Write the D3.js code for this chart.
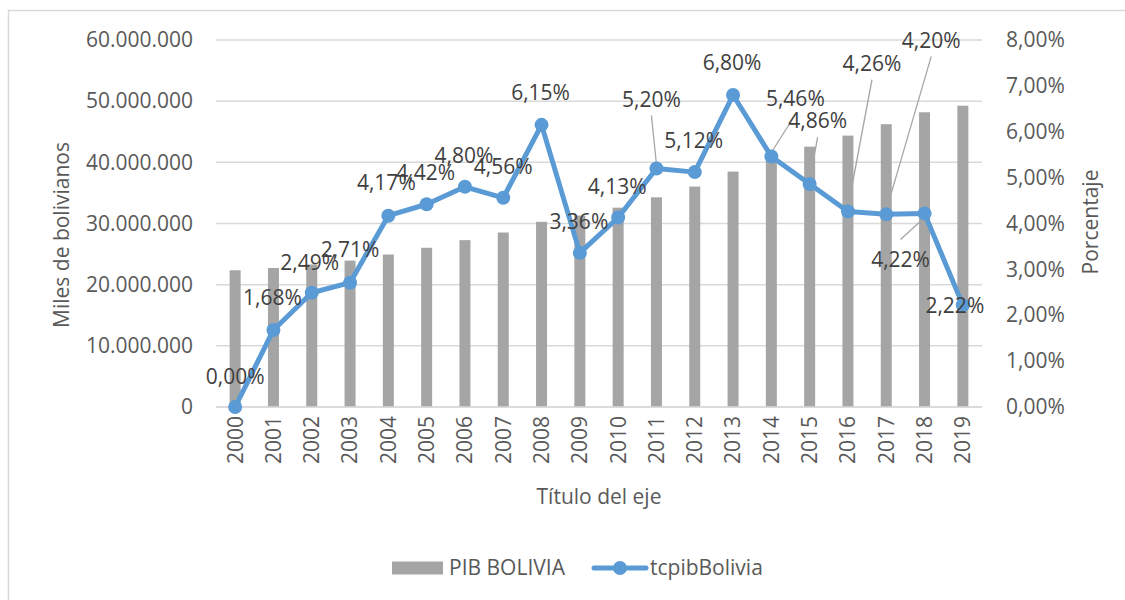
<!DOCTYPE html>
<html>
<head>
<meta charset="utf-8">
<script src="https://cdn.jsdelivr.net/npm/d3@7"></script>
<style>
  body { margin: 0; background: #fff; }
  text { font-family: "Open Sans", sans-serif; }
</style>
</head>
<body>
<div id="chart"></div>
<script>

  /**
   * Data
   */

  const years = ['2000', '2001', '2002', '2003', '2004', '2005', '2006', '2007', '2008', '2009',
                 '2010', '2011', '2012', '2013', '2014', '2015', '2016', '2017', '2018', '2019'];

  // PIB BOLIVIA, miles de bolivianos
  const pib = [22356265, 22732700, 23297736, 23929417, 24928062, 26030240, 27278913, 28524027,
               30277826, 31294253, 32585680, 34281469, 36037460, 38486570, 40588156, 42559599,
               44374306, 46235900, 48188730, 49256931];

  // tcpibBolivia, percent
  const tcpib = [0.00, 1.68, 2.49, 2.71, 4.17, 4.42, 4.80, 4.56, 6.15, 3.36,
                 4.13, 5.20, 5.12, 6.80, 5.46, 4.86, 4.26, 4.20, 4.22, 2.22];

  const leftTicks = [0, 10000000, 20000000, 30000000, 40000000, 50000000, 60000000];
  const rightTicks = [0, 1, 2, 3, 4, 5, 6, 7, 8];


  /**
   * Layout
   */

  const width = 1125;
  const height = 600;
  const plot = { left: 216, right: 982, top: 40, bottom: 407 };

  const colors = {
    bar: '#A5A5A5',
    line: '#5B9BD5',
    grid: '#D9D9D9',
    tick: '#595959',
    label: '#404040',
    leader: '#A6A6A6',
  };

  // data label offsets from each point: [dx, dy, leader]
  const labelPlacement = [
    [0, -30], [-1, -32], [-2, -30], [0, -33], [-2, -33], [-1, -32], [-1, -31], [0, -31],
    [-1, -32], [-1, -31], [-1, -31], [-5, -69, true], [-1, -31], [-1, -32], [24, -58, true],
    [8, -63, true], [24, -148, true], [45, -174, true], [-24, 46, true], [-8, 0],
  ];

  const svg = d3.select('#chart')
                .append('svg')
                .attr('width', width)
                .attr('height', height);

  // chart frame
  svg.append('rect')
     .attr('x', 8.5)
     .attr('y', 10.5)
     .attr('width', width + 20)
     .attr('height', height + 20)
     .attr('fill', 'none')
     .attr('stroke', colors.grid)
     .attr('stroke-width', 1.5);

  const x = d3.scaleBand()
              .domain(years)
              .range([plot.left, plot.right]);

  const yLeft = d3.scaleLinear()
                  .domain([0, 60000000])
                  .range([plot.bottom, plot.top]);

  const yRight = d3.scaleLinear()
                   .domain([0, 8])
                   .range([plot.bottom, plot.top]);

  const fmtMiles = d3.formatLocale({ decimal: ',', thousands: '.', grouping: [3], currency: ['', ''] }).format(',.0f');
  const fmtPct = v => v.toFixed(2).replace('.', ',') + '%';

  // gridlines
  svg.append('g')
     .selectAll('line')
     .data(leftTicks)
     .enter()
     .append('line')
     .attr('x1', plot.left)
     .attr('x2', plot.right)
     .attr('y1', d => yLeft(d))
     .attr('y2', d => yLeft(d))
     .attr('stroke', colors.grid)
     .attr('stroke-width', 1.5);

  // left axis
  const leftAxis = svg.append('g')
                      .attr('transform', `translate(${plot.left},0)`)
                      .call(d3.axisLeft(yLeft).tickValues(leftTicks).tickFormat(fmtMiles).tickSize(0).tickPadding(23));
  leftAxis.select('.domain').remove();

  // right axis
  const rightAxis = svg.append('g')
                       .attr('transform', `translate(${plot.right},0)`)
                       .call(d3.axisRight(yRight).tickValues(rightTicks).tickFormat(fmtPct).tickSize(0).tickPadding(24));
  rightAxis.select('.domain').remove();

  // bottom axis
  const bottomAxis = svg.append('g')
                        .attr('transform', `translate(0,${plot.bottom})`)
                        .call(d3.axisBottom(x).tickSize(0));
  bottomAxis.select('.domain').remove();
  bottomAxis.selectAll('text')
            .attr('transform', 'rotate(-90)')
            .attr('x', -9)
            .attr('y', 0)
            .attr('dy', '0.35em')
            .style('text-anchor', 'end');

  svg.selectAll('.tick text')
     .attr('fill', colors.tick)
     .style('font-size', '21px')
     .style('font-family', '"Open Sans", sans-serif');

  // bars
  const barWidth = 11;
  svg.append('g')
     .selectAll('rect')
     .data(pib)
     .enter()
     .append('rect')
     .attr('x', (d, i) => x(years[i]) + x.bandwidth() / 2 - barWidth / 2)
     .attr('y', d => yLeft(d))
     .attr('width', barWidth)
     .attr('height', d => plot.bottom - yLeft(d))
     .attr('fill', colors.bar);

  // axis line over bars
  svg.append('line')
     .attr('x1', plot.left)
     .attr('x2', plot.right)
     .attr('y1', plot.bottom)
     .attr('y2', plot.bottom)
     .attr('stroke', colors.grid)
     .attr('stroke-width', 1.5);

  const px = i => x(years[i]) + x.bandwidth() / 2;
  const py = v => yRight(v);

  // leader lines
  svg.append('g')
     .selectAll('line')
     .data(tcpib.map((v, i) => ({ v, i, p: labelPlacement[i] })).filter(d => d.p[2]))
     .enter()
     .append('line')
     .attr('x1', d => px(d.i) + d.p[0])
     .attr('y1', d => py(d.v) + d.p[1] + (d.p[1] < 0 ? 16 : -20))
     .attr('x2', d => px(d.i))
     .attr('y2', d => py(d.v) + (d.p[1] < 0 ? -4 : 4))
     .attr('stroke', colors.leader)
     .attr('stroke-width', 1.3);

  // line
  const line = d3.line()
                 .x((d, i) => px(i))
                 .y(d => py(d));

  svg.append('path')
     .datum(tcpib)
     .attr('d', line)
     .attr('fill', 'none')
     .attr('stroke', colors.line)
     .attr('stroke-width', 5)
     .attr('stroke-linejoin', 'round');

  svg.append('g')
     .selectAll('circle')
     .data(tcpib)
     .enter()
     .append('circle')
     .attr('cx', (d, i) => px(i))
     .attr('cy', d => py(d))
     .attr('r', 7)
     .attr('fill', colors.line);

  // data labels
  svg.append('g')
     .selectAll('text')
     .data(tcpib)
     .enter()
     .append('text')
     .attr('x', (d, i) => px(i) + labelPlacement[i][0])
     .attr('y', (d, i) => py(d) + labelPlacement[i][1])
     .attr('dy', '0.35em')
     .attr('text-anchor', 'middle')
     .attr('fill', colors.label)
     .style('font-size', '21px')
     .text(fmtPct);

  // axis titles
  svg.append('text')
     .attr('transform', 'translate(62,235) rotate(-90)')
     .attr('dy', '0.35em')
     .attr('text-anchor', 'middle')
     .attr('fill', colors.tick)
     .style('font-size', '21px')
     .text('Miles de bolivianos');

  svg.append('text')
     .attr('transform', 'translate(1091,222) rotate(-90)')
     .attr('dy', '0.35em')
     .attr('text-anchor', 'middle')
     .attr('fill', colors.tick)
     .style('font-size', '21px')
     .text('Porcentaje');

  svg.append('text')
     .attr('x', 599)
     .attr('y', 497)
     .attr('dy', '0.35em')
     .attr('text-anchor', 'middle')
     .attr('fill', colors.tick)
     .style('font-size', '21px')
     .text('Título del eje');

  // legend
  const legend = svg.append('g').attr('transform', 'translate(0,568)');

  legend.append('rect')
        .attr('x', 392)
        .attr('y', -6.5)
        .attr('width', 51)
        .attr('height', 13)
        .attr('fill', colors.bar);

  legend.append('text')
        .attr('x', 449)
        .attr('dy', '0.35em')
        .attr('fill', colors.tick)
        .style('font-size', '21px')
        .text('PIB BOLIVIA');

  legend.append('line')
        .attr('x1', 594)
        .attr('x2', 646)
        .attr('stroke', colors.line)
        .attr('stroke-width', 5)
        .attr('stroke-linecap', 'round');

  legend.append('circle')
        .attr('cx', 620)
        .attr('r', 7)
        .attr('fill', colors.line);

  legend.append('text')
        .attr('x', 650)
        .attr('dy', '0.35em')
        .attr('fill', colors.tick)
        .style('font-size', '21px')
        .text('tcpibBolivia');

</script>
</body>
</html>
